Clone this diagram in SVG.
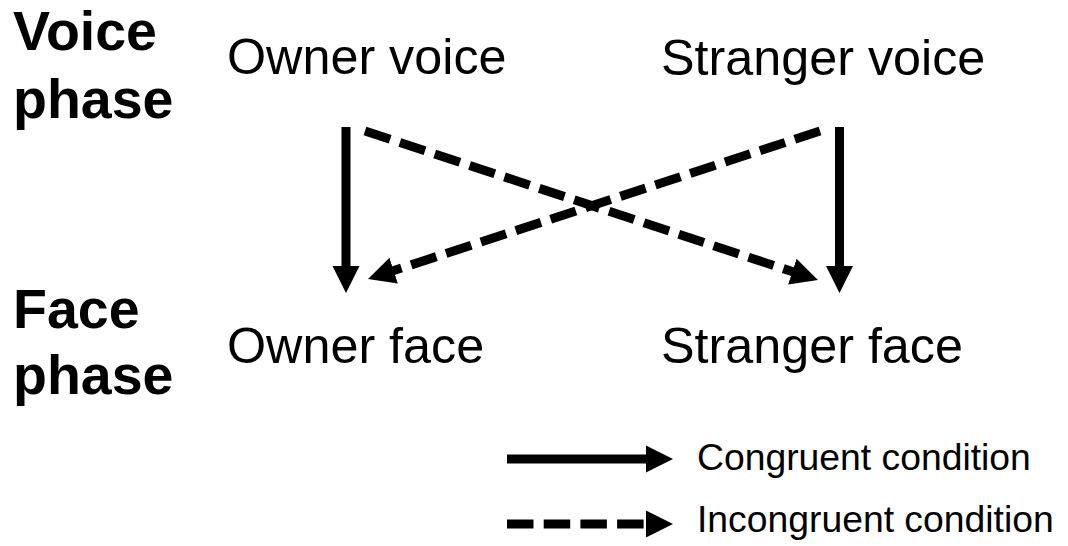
<svg xmlns="http://www.w3.org/2000/svg" width="1068" height="546" viewBox="0 0 1068 546">
  <style>
    .phase { font-family: "Liberation Sans", Arial, sans-serif; font-weight: bold; font-size: 55.5px; fill: #000; }
    .label { font-family: "Liberation Sans", Arial, sans-serif; font-size: 50.3px; fill: #000; }
    .legend { font-family: "Liberation Sans", Arial, sans-serif; font-size: 37.3px; fill: #000; }
    .solid { stroke: #000; stroke-width: 9; fill: none; marker-end: url(#head); }
    .dashed { stroke: #000; stroke-width: 9; fill: none; stroke-dasharray: 26.5 10.2; marker-end: url(#head); }
  </style>
  <defs>
    <marker id="head" markerUnits="userSpaceOnUse" markerWidth="28" markerHeight="28" refX="15" refY="13.5" orient="auto" viewBox="0 0 28 27">
      <path d="M0,0 L27,13.5 L0,27 Z" fill="#000"/>
    </marker>
  </defs>
  <rect width="1068" height="546" fill="#fff"/>

  <!-- phase headings -->
  <g id="voice-phase">
    <text class="phase" x="13" y="50">Voice</text>
    <text class="phase" x="13" y="118">phase</text>
  </g>
  <g id="face-phase">
    <text class="phase" x="13" y="328">Face</text>
    <text class="phase" x="13" y="394">phase</text>
  </g>

  <!-- stimulus nodes -->
  <g id="owner-voice">
    <text class="label" x="227" y="74">Owner voice</text>
  </g>
  <g id="stranger-voice">
    <text class="label" x="661" y="75">Stranger voice</text>
  </g>
  <g id="owner-face">
    <text class="label" x="227" y="363">Owner face</text>
  </g>
  <g id="stranger-face">
    <text class="label" x="661" y="363">Stranger face</text>
  </g>

  <!-- voice-to-face transitions -->
  <g id="connectors">
    <line class="solid" x1="346" y1="127" x2="346" y2="281"/>
    <line class="solid" x1="839.5" y1="127" x2="839.5" y2="281"/>
    <line class="dashed" x1="365" y1="131" x2="806.6" y2="276.3"/>
    <line class="dashed" x1="820" y1="131" x2="379.4" y2="275.3"/>
  </g>

  <!-- legend -->
  <g id="legend">
    <line class="solid" x1="507" y1="459" x2="661" y2="459"/>
    <text class="legend" x="697" y="470">Congruent condition</text>
    <line class="dashed" x1="507" y1="524" x2="661" y2="524"/>
    <text class="legend" x="697" y="532">Incongruent condition</text>
  </g>
</svg>
